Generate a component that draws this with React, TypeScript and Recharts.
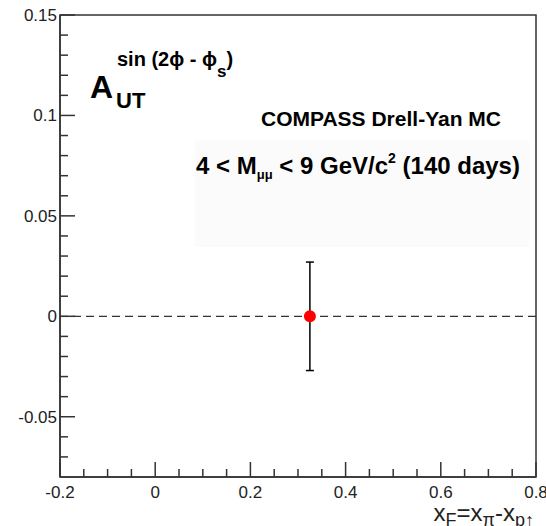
import { ScatterChart, Scatter, XAxis, YAxis, ReferenceLine, ReferenceArea, ErrorBar } from 'recharts';

// x ticks: majors get labels, minors are just short marks
const xMajor = [-0.2, 0, 0.2, 0.4, 0.6, 0.8];
const xMinor = [-0.15, -0.1, -0.05, 0.05, 0.1, 0.15, 0.25, 0.3, 0.35, 0.45, 0.5, 0.55, 0.65, 0.7, 0.75];
const yMajor = [-0.05, 0, 0.05, 0.1, 0.15];
const yMinor = [-0.07, -0.06, -0.04, -0.03, -0.02, -0.01, 0.01, 0.02, 0.03, 0.04, 0.06, 0.07, 0.08, 0.09, 0.11, 0.12, 0.13, 0.14];

// the single MC point with its statistical error
const xF = [0.325];
const asym = [0];
const asymErr = [0.027];

const points = xF.map((x, i) => ({ x, y: asym[i], err: asymErr[i] }));

const FONT = '"Liberation Sans", Arial, Helvetica, sans-serif';
const AXIS = '#333';

const isMajor = (list: number[], v: number) => list.some((m) => Math.abs(m - v) < 1e-9);

const XTick = ({ x, y, payload }: any) => {
  const major = isMajor(xMajor, payload.value);
  return (
    <g>
      <line x1={x} x2={x} y1={y} y2={y - (major ? 15 : 8)} stroke={AXIS} strokeWidth={1.5} />
      {major && (
        <text x={x} y={y + 21} textAnchor="middle" fontSize={17} fontFamily={FONT} fill="#222">
          {String(payload.value)}
        </text>
      )}
    </g>
  );
};

const YTick = ({ x, y, payload }: any) => {
  const major = isMajor(yMajor, payload.value);
  return (
    <g>
      <line x1={x} x2={x + (major ? 15 : 8)} y1={y} y2={y} stroke={AXIS} strokeWidth={1.5} />
      {major && (
        <text x={x - 3} y={y + 6} textAnchor="end" fontSize={17} fontFamily={FONT} fill="#222">
          {String(payload.value)}
        </text>
      )}
    </g>
  );
};

const RedDot = ({ cx, cy }: any) => <circle cx={cx} cy={cy} r={6} fill="#ff0000" />;

export default function App() {
  return (
    <div style={{ position: 'absolute', left: 0, top: 0, width: 546, height: 526, background: '#fff' }}>
      <ScatterChart width={546} height={526} margin={{ top: 15, right: 10, left: 0, bottom: 0 }}>
        <XAxis
          type="number"
          dataKey="x"
          domain={[-0.2, 0.8]}
          ticks={[...xMajor, ...xMinor]}
          interval={0}
          allowDataOverflow
          height={49}
          tickSize={0}
          tickMargin={0}
          tickLine={false}
          tick={<XTick />}
          axisLine={{ stroke: AXIS, strokeWidth: 1.5 }}
        />
        <YAxis
          type="number"
          dataKey="y"
          domain={[-0.08, 0.15]}
          ticks={[...yMajor, ...yMinor]}
          interval={0}
          allowDataOverflow
          width={60}
          tickSize={0}
          tickMargin={0}
          tickLine={false}
          tick={<YTick />}
          axisLine={{ stroke: AXIS, strokeWidth: 1.5 }}
        />
        {/* faint legend box behind the labels */}
        <ReferenceArea x1={0.084} x2={0.786} y1={0.0345} y2={0.0875} fill="#fbfbfb" fillOpacity={1} stroke="none" />
        {/* top/right frame */}
        <ReferenceArea x1={-0.2} x2={0.8} y1={-0.08} y2={0.15} fill="none" stroke={AXIS} strokeWidth={1.5} />
        <ReferenceLine y={0} stroke={AXIS} strokeDasharray="8 5" strokeWidth={1.2} />
        <Scatter data={points} shape={<RedDot />} isAnimationActive={false}>
          <ErrorBar dataKey="err" direction="y" width={4} stroke="#000" strokeWidth={1.5} isAnimationActive={false} />
        </Scatter>
      </ScatterChart>
      <svg width={546} height={526} style={{ position: 'absolute', left: 0, top: 0, pointerEvents: 'none' }}>
        <g fontFamily={FONT} fill="#000">
          <text x={90} y={98} fontSize={32} fontWeight="bold">A</text>
          <text x={116} y={108} fontSize={22} fontWeight="bold">UT</text>
          <text x={117} y={66} fontSize={20} fontWeight="bold">
            sin (2ϕ - ϕ<tspan fontSize={17} dy={11}>s</tspan>
            <tspan dy={-11}>)</tspan>
          </text>
          <text x={381} y={126} fontSize={21} fontWeight="bold" textAnchor="middle">COMPASS Drell-Yan MC</text>
          <text x={358} y={174} fontSize={24} fontWeight="bold" textAnchor="middle">
            4 &lt; M<tspan fontSize={13} dy={5}>μμ</tspan>
            <tspan dy={-5}> &lt; 9 GeV/c</tspan>
            <tspan fontSize={14} dy={-11}>2</tspan>
            <tspan dy={11}> (140 days)</tspan>
          </text>
          <text x={534} y={521} fontSize={24} textAnchor="end" fill="#222">
            x<tspan fontSize={18} dy={5}>F</tspan>
            <tspan dy={-5}>=x</tspan>
            <tspan fontSize={18} dy={5}>π</tspan>
            <tspan dy={-5}>-x</tspan>
            <tspan fontSize={18} dy={5}>p↑</tspan>
          </text>
        </g>
      </svg>
    </div>
  );
}
